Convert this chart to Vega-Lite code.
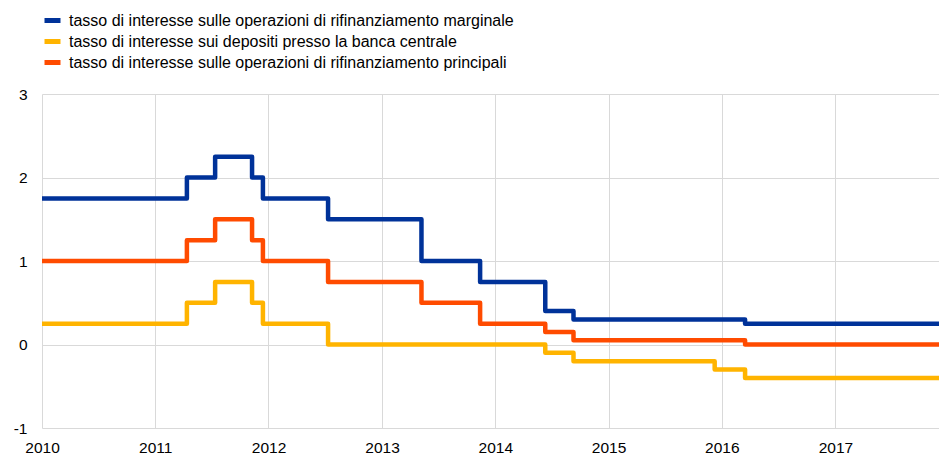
{
  "$schema": "https://vega.github.io/schema/vega-lite/v6.json",
  "width": 897,
  "height": 334,
  "autosize": {"type": "none"},
  "padding": {"left": 42, "top": 94, "right": 0, "bottom": 27},
  "background": "white",
  "config": {
    "font": "Liberation Sans",
    "view": {"stroke": null},
    "axis": {"labelFont": "Liberation Sans", "labelFontSize": 15.5, "labelColor": "#000000", "grid": true, "gridColor": "#d9d9d9", "gridWidth": 1, "domain": false, "ticks": false, "title": null}
  },
  "data": {
    "values": [
      {"date": "2010-01-01", "series": "marginale", "rate": 1.75},
      {"date": "2011-04-13", "series": "marginale", "rate": 2.00},
      {"date": "2011-07-13", "series": "marginale", "rate": 2.25},
      {"date": "2011-11-09", "series": "marginale", "rate": 2.00},
      {"date": "2011-12-14", "series": "marginale", "rate": 1.75},
      {"date": "2012-07-11", "series": "marginale", "rate": 1.50},
      {"date": "2013-05-08", "series": "marginale", "rate": 1.00},
      {"date": "2013-11-13", "series": "marginale", "rate": 0.75},
      {"date": "2014-06-11", "series": "marginale", "rate": 0.40},
      {"date": "2014-09-10", "series": "marginale", "rate": 0.30},
      {"date": "2016-03-16", "series": "marginale", "rate": 0.25},
      {"date": "2017-12-01", "series": "marginale", "rate": 0.25},
      {"date": "2010-01-01", "series": "depositi", "rate": 0.25},
      {"date": "2011-04-13", "series": "depositi", "rate": 0.50},
      {"date": "2011-07-13", "series": "depositi", "rate": 0.75},
      {"date": "2011-11-09", "series": "depositi", "rate": 0.50},
      {"date": "2011-12-14", "series": "depositi", "rate": 0.25},
      {"date": "2012-07-11", "series": "depositi", "rate": 0.00},
      {"date": "2014-06-11", "series": "depositi", "rate": -0.10},
      {"date": "2014-09-10", "series": "depositi", "rate": -0.20},
      {"date": "2015-12-09", "series": "depositi", "rate": -0.30},
      {"date": "2016-03-16", "series": "depositi", "rate": -0.40},
      {"date": "2017-12-01", "series": "depositi", "rate": -0.40},
      {"date": "2010-01-01", "series": "principali", "rate": 1.00},
      {"date": "2011-04-13", "series": "principali", "rate": 1.25},
      {"date": "2011-07-13", "series": "principali", "rate": 1.50},
      {"date": "2011-11-09", "series": "principali", "rate": 1.25},
      {"date": "2011-12-14", "series": "principali", "rate": 1.00},
      {"date": "2012-07-11", "series": "principali", "rate": 0.75},
      {"date": "2013-05-08", "series": "principali", "rate": 0.50},
      {"date": "2013-11-13", "series": "principali", "rate": 0.25},
      {"date": "2014-06-11", "series": "principali", "rate": 0.15},
      {"date": "2014-09-10", "series": "principali", "rate": 0.05},
      {"date": "2016-03-16", "series": "principali", "rate": 0.00},
      {"date": "2017-12-01", "series": "principali", "rate": 0.00}
    ]
  },
  "mark": {"type": "line", "interpolate": "step-after", "strokeWidth": 4.5, "strokeJoin": "round", "clip": true},
  "encoding": {
    "x": {
      "field": "date", "type": "temporal",
      "scale": {"type": "utc", "domain": [{"year": 2010, "month": 1, "date": 1, "utc": true}, {"year": 2017, "month": 12, "date": 1, "utc": true}]},
      "axis": {"format": "%Y", "formatType": "utc", "tickCount": {"interval": "year", "step": 1}, "labelPadding": 12, "labelAlign": "center", "labelFlush": false, "labelOverlap": false}
    },
    "y": {
      "field": "rate", "type": "quantitative",
      "scale": {"domain": [-1, 3], "nice": false, "zero": false},
      "axis": {"values": [-1, 0, 1, 2, 3], "labelPadding": 15, "labelFlush": false, "labelExpr": "'' + datum.value"}
    },
    "color": {
      "field": "series", "type": "nominal",
      "scale": {"domain": ["marginale", "depositi", "principali"], "range": ["#003299", "#ffb400", "#ff4b00"]},
      "legend": {
        "title": null, "orient": "none", "legendX": 0, "legendY": -84, "padding": 0,
        "symbolType": "stroke", "symbolSize": 256, "symbolStrokeWidth": 5,
        "labelFontSize": 16, "labelFont": "Liberation Sans", "labelColor": "#000000", "labelOffset": 6, "rowPadding": -2, "labelLimit": 700,
        "labelExpr": "datum.label == 'marginale' ? 'tasso di interesse sulle operazioni di rifinanziamento marginale' : datum.label == 'depositi' ? 'tasso di interesse sui depositi presso la banca centrale' : 'tasso di interesse sulle operazioni di rifinanziamento principali'"
      }
    }
  }
}
